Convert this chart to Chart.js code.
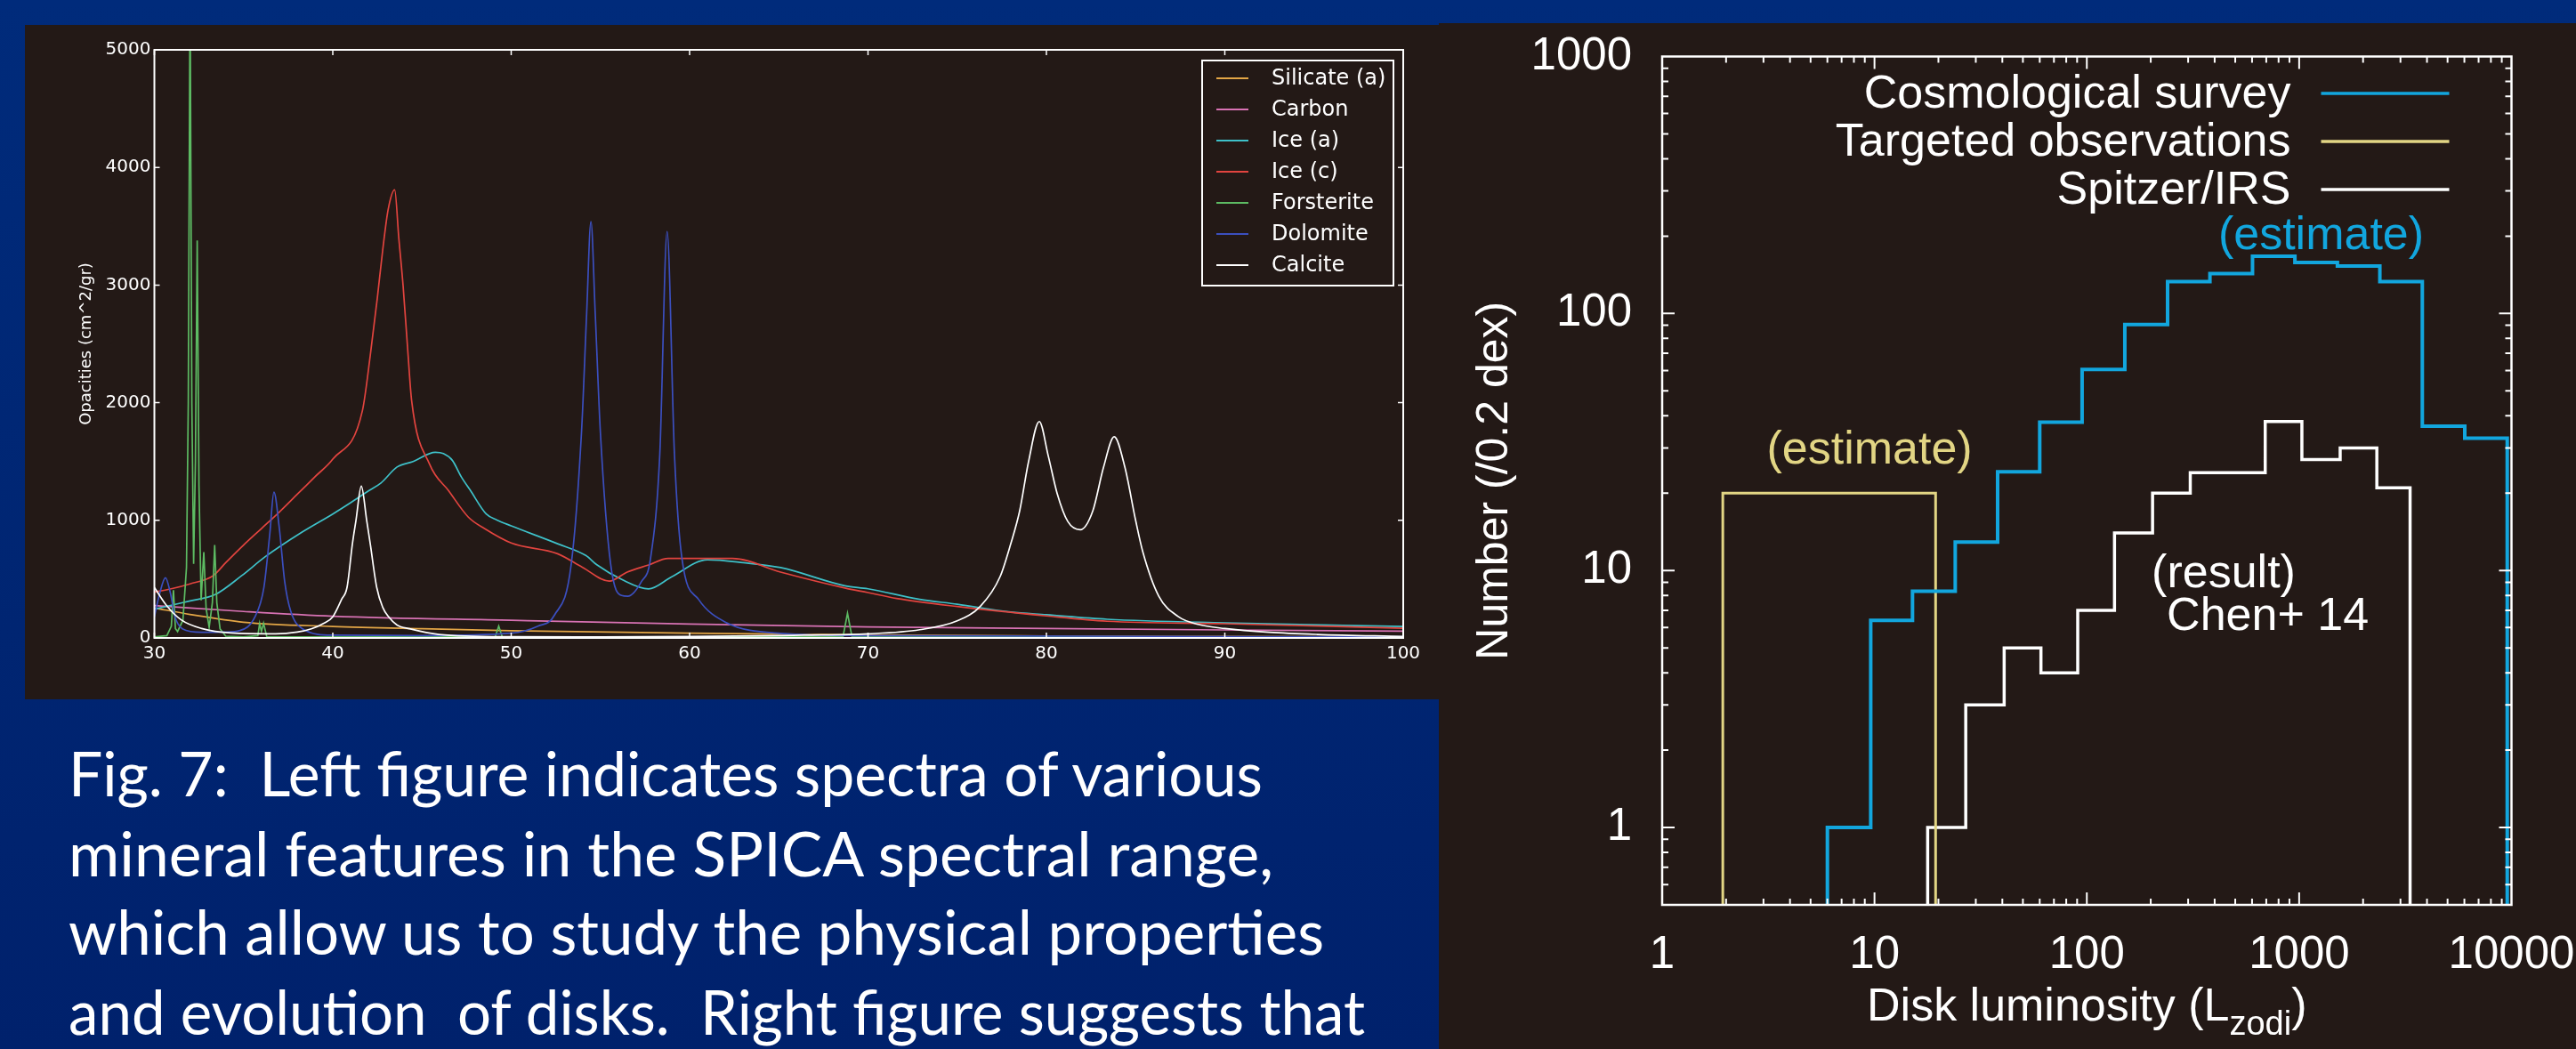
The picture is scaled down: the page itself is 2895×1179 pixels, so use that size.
<!DOCTYPE html>
<html>
<head>
<meta charset="utf-8">
<script src="https://cdn.jsdelivr.net/npm/chart.js@4.4.1/dist/chart.umd.min.js"></script>
<style>
  html, body { margin: 0; padding: 0; }
  body {
    width: 2895px; height: 1179px; overflow: hidden; position: relative;
    background: linear-gradient(#002b7b, #00216c);
    font-family: Lato, sans-serif;
  }
  .panel { position: absolute; background: #231916; }
  #left-panel { left: 28px; top: 28px; width: 1589px; height: 758px; }
  #right-panel { left: 1617px; top: 26px; width: 1278px; height: 1153px; }
  canvas { display: block; }
  .caption-line {
    position: absolute; left: 77px; color: #fff;
    font-family: Lato, sans-serif; font-size: 70px; line-height: 70px;
    white-space: pre; transform-origin: 0 0;
  }
</style>
</head>
<body>
<div class="panel" id="left-panel"><canvas id="spectra" width="1589" height="758"></canvas></div>
<div class="panel" id="right-panel"><canvas id="lumfunc" width="1278" height="1153"></canvas></div>

<div class="caption-line" style="top:833px" data-w="1342">Fig. 7:  Left figure indicates spectra of various</div>
<div class="caption-line" style="top:923px" data-w="1354">mineral features in the SPICA spectral range,</div>
<div class="caption-line" style="top:1011px" data-w="1411">which allow us to study the physical properties</div>
<div class="caption-line" style="top:1101px" data-w="1457">and evolution  of disks.  Right figure suggests that</div>

<script>
// ---------- left figure: mineral opacities (wavelength, cm^2/gr) ----------
const wavelengthTicks = [30, 40, 50, 60, 70, 80, 90, 100];
const opacityTicks = [0, 1000, 2000, 3000, 4000, 5000];
const mineralNames = ['Silicate (a)', 'Carbon', 'Ice (a)', 'Ice (c)', 'Forsterite', 'Dolomite', 'Calcite'];
const mineralColors = ['#e3a646', '#d872b4', '#3ec1c9', '#e2443f', '#5dbb63', '#3b4fbf', '#ffffff'];

const silicateA = [[30, 255], [32, 200], [35, 134], [40, 98], [45, 78], [50, 62], [60, 40], [70, 25], [80, 17], [90, 12], [100, 8]];
const carbon = [[30, 275], [35, 225], [40, 185], [50, 150], [60, 118], [70, 93], [80, 80], [90, 68], [100, 58]];
const iceA = [[30, 245], [31, 280], [32, 315], [33.4, 368], [34.9, 530], [36.2, 689], [38.3, 902], [40, 1054], [41, 1150],
  [42, 1250], [42.7, 1317], [43.6, 1453], [44.5, 1500], [45.75, 1578], [46.2, 1567], [46.7, 1510], [47.2, 1370],
  [47.7, 1257], [48.6, 1054], [49.2, 1003], [50, 953], [52.6, 801], [54.2, 699], [54.8, 622], [56.2, 497],
  [57.7, 417], [59, 520], [61, 664], [63, 640], [65.1, 598], [68.7, 444], [70, 418], [72.9, 328], [75, 287],
  [78, 220], [80, 197], [83.4, 159], [90, 128], [100, 98]];
const iceC = [[30, 390], [31, 420], [32, 460], [33.3, 530], [34, 640], [35, 790], [36, 930], [37, 1070], [38, 1220],
  [39, 1370], [40, 1520], [41.66, 1932], [42.1, 2400], [42.5, 2895], [42.8, 3300], [43.1, 3640], [43.47, 3810],
  [43.7, 3400], [43.94, 2996], [44.2, 2450], [44.42, 2017], [45.43, 1476], [46.5, 1250], [47.6, 1027], [48.5, 930],
  [50, 807], [52.6, 716], [54, 600], [55.5, 483], [56.5, 560], [57.7, 620], [58.8, 676], [62.4, 676], [65.1, 560],
  [68.7, 425], [70, 386], [71.6, 336], [75, 267], [80, 187], [83.4, 142], [90, 121], [100, 83]];
const forsterite = [[30, 8], [30.7, 20], [30.95, 100], [31.07, 406], [31.18, 80], [31.3, 55], [31.6, 150], [31.8, 600],
  [31.9, 2000], [32.0, 5600], [32.1, 2000], [32.2, 630], [32.3, 1500], [32.4, 3380], [32.5, 1300], [32.62, 320],
  [32.77, 730], [32.9, 250], [33.07, 90], [33.25, 300], [33.38, 790], [33.5, 300], [33.68, 78], [34, 15], [35, 8],
  [35.8, 20], [35.9, 123], [36.0, 55], [36.12, 125], [36.3, 10], [49.1, 8], [49.3, 100], [49.5, 8], [68.6, 10],
  [68.85, 210], [69.1, 10], [100, 5]];
const dolomite = [[30, 179], [30.3, 380], [30.62, 512], [30.9, 380], [31.16, 179], [31.57, 78], [32.65, 48], [34, 50],
  [34.8, 63], [35.64, 180], [36.14, 431], [36.47, 885], [36.7, 1240], [37.0, 938], [37.3, 484], [37.64, 229],
  [38.3, 78], [40, 23], [45, 20], [50, 40], [51.5, 100], [52.42, 193], [53.37, 632], [53.94, 1746], [54.23, 2760],
  [54.47, 3540], [54.71, 2760], [55.0, 1746], [55.57, 632], [56.19, 361], [56.53, 355], [57.3, 480], [57.81, 676],
  [58.33, 1564], [58.74, 3456], [59.15, 1564], [59.57, 676], [60.5, 328], [62, 135], [65.1, 39], [70, 20], [100, 10]];
const calcite = [[30, 430], [30.66, 280], [31.5, 154], [32.65, 80], [34.3, 42], [36.8, 35], [38, 50], [38.8, 78],
  [39.5, 125], [40, 180], [40.5, 330], [40.8, 431], [41.1, 800], [41.3, 1000], [41.6, 1290], [41.9, 1000],
  [42.1, 800], [42.46, 431], [42.8, 260], [43.13, 179], [43.6, 110], [44.3, 78], [45.95, 30], [50, 10], [55, 8],
  [60, 12], [65, 20], [66.4, 23], [70, 35], [72.9, 70], [75, 145], [76.3, 270], [77.4, 520], [78, 800], [78.5, 1080],
  [79, 1500], [79.6, 1840], [80.1, 1550], [80.6, 1230], [81.2, 990], [81.9, 920], [82.6, 1080], [83.2, 1450],
  [83.8, 1710], [84.4, 1450], [85, 1000], [85.4, 734], [86.3, 355], [87.4, 181], [88.5, 115], [90, 80], [92.5, 48],
  [95.2, 30], [100, 12]];
const mineralSpectra = [silicateA, carbon, iceA, iceC, forsterite, dolomite, calcite];

// ---------- right figure: disk luminosity histograms (edges in L_zodi, counts per 0.2 dex) ----------
const luminosityTicks = [1, 10, 100, 1000, 10000];
const numberTicks = [1, 10, 100, 1000];
const surveyNames = ['Cosmological survey', 'Targeted observations', 'Spitzer/IRS'];
const surveyColors = ['#12a6de', '#e2d584', '#ffffff'];

const cosmoEdges = [6.0, 9.6, 15.1, 24, 38, 60, 95, 151, 240, 380, 603, 955, 1514, 2399, 3802, 6026, 9550];
const cosmoCounts = [1, 6.4, 8.3, 12.9, 24.2, 37.8, 60.6, 90.5, 133, 143, 167, 158, 153, 133, 36.4, 32.7];
const targetedEdges = [1.93, 19.4];
const targetedCounts = [20];
const spitzerEdges = [17.8, 26.9, 40.8, 60.8, 90.6, 135, 204, 307, 462, 692, 1030, 1560, 2322, 3330];
const spitzerCounts = [1, 3, 5, 4, 7, 14, 20, 24, 24, 38, 27, 30, 21];

// labels inside the right plot, anchored in data space
const notes = [
  { text: '(estimate)', x: 1268, y: 199, color: '#12a6de', align: 'center' },
  { text: '(estimate)', x: 9.48, y: 29.3, color: '#e2d584', align: 'center' },
  { text: '(result)', x: 202, y: 9.66, color: '#ffffff', align: 'left' },
  { text: 'Chen+ 14', x: 238, y: 6.6, color: '#ffffff', align: 'left' }
];

// ---------------------------------------------------------------------
function toPoints(pairs) {
  return pairs.map(p => ({ x: p[0], y: p[1] }));
}

// histogram outline from bin edges, dropping to below the axis at both ends
function outline(edges, counts) {
  const floor = 0.3;
  const pts = [{ x: edges[0], y: floor }];
  counts.forEach((c, i) => {
    pts.push({ x: edges[i], y: c }, { x: edges[i + 1], y: c });
  });
  pts.push({ x: edges[edges.length - 1], y: floor });
  return pts;
}

// keep the plot box where the layout padding puts it (labels may hang over)
function noLabelPadding(s) {
  s.paddingTop = 0; s.paddingBottom = 0; s.paddingLeft = 0; s.paddingRight = 0;
}

// box + inward ticks on all four sides + legend, matplotlib style
const spectraDecor = {
  id: 'spectraDecor',
  afterDatasetsDraw(chart) {
    const { ctx, chartArea: a, scales: { x, y } } = chart;
    ctx.save();
    ctx.strokeStyle = '#ffffff';
    ctx.lineWidth = 1.5;
    ctx.beginPath();
    wavelengthTicks.forEach(v => {
      const px = x.getPixelForValue(v);
      ctx.moveTo(px, a.bottom); ctx.lineTo(px, a.bottom - 6);
      ctx.moveTo(px, a.top); ctx.lineTo(px, a.top + 6);
    });
    opacityTicks.forEach(v => {
      const py = y.getPixelForValue(v);
      ctx.moveTo(a.left, py); ctx.lineTo(a.left + 6, py);
      ctx.moveTo(a.right, py); ctx.lineTo(a.right - 6, py);
    });
    ctx.stroke();
    ctx.lineWidth = 2;
    ctx.strokeRect(a.left, a.top, a.right - a.left, a.bottom - a.top);

    // legend
    const bx = a.right - 226, by = a.top + 12, bw = 215, bh = 253;
    ctx.fillStyle = '#231916';
    ctx.fillRect(bx, by, bw, bh);
    ctx.lineWidth = 2;
    ctx.strokeStyle = '#ffffff';
    ctx.strokeRect(bx, by, bw, bh);
    ctx.font = '24px "DejaVu Sans"';
    ctx.textBaseline = 'middle';
    ctx.textAlign = 'left';
    mineralNames.forEach((name, i) => {
      const ly = by + 20 + 35 * i;
      ctx.strokeStyle = mineralColors[i];
      ctx.lineWidth = 2;
      ctx.beginPath();
      ctx.moveTo(bx + 16, ly); ctx.lineTo(bx + 52, ly);
      ctx.stroke();
      ctx.fillStyle = '#ffffff';
      ctx.fillText(name, bx + 78, ly + 1);
    });
    ctx.restore();
  }
};

new Chart(document.getElementById('spectra'), {
  type: 'line',
  data: {
    datasets: mineralSpectra.map((s, i) => ({
      label: mineralNames[i],
      data: toPoints(s),
      borderColor: mineralColors[i],
      borderWidth: 1.7,
      pointRadius: 0,
      fill: false,
      order: mineralNames.length - i,
      cubicInterpolationMode: mineralNames[i] === 'Forsterite' ? 'default' : 'monotone',
      tension: 0
    }))
  },
  options: {
    responsive: false,
    animation: false,
    layout: { padding: { top: 28, right: 40, bottom: 0, left: 0 } },
    plugins: { legend: { display: false }, tooltip: { enabled: false } },
    scales: {
      x: {
        type: 'linear', min: 30, max: 100,
        afterBuildTicks: s => { s.ticks = wavelengthTicks.map(v => ({ value: v })); },
        afterFit: s => { s.height = 69; noLabelPadding(s); },
        grid: { display: false, drawTicks: false },
        border: { display: false },
        ticks: { color: '#ffffff', padding: 6, maxRotation: 0, callback: v => String(v),
                 font: { family: 'DejaVu Sans', size: 20 } }
      },
      y: {
        type: 'linear', min: 0, max: 5000,
        afterBuildTicks: s => { s.ticks = opacityTicks.map(v => ({ value: v })); },
        afterFit: s => { s.width = 145.5; noLabelPadding(s); },
        grid: { display: false, drawTicks: false },
        border: { display: false },
        ticks: { color: '#ffffff', padding: 4, callback: v => String(v),
                 font: { family: 'DejaVu Sans', size: 20 } },
        title: {
          display: true, text: 'Opacities (cm^2/gr)', color: '#ffffff',
          font: { family: 'DejaVu Sans', size: 18 }, padding: { top: 59, bottom: 0 }
        }
      }
    }
  },
  plugins: [spectraDecor]
});

// gnuplot-like frame with major/minor log ticks, key, notes and x label
const lumDecor = {
  id: 'lumDecor',
  afterDatasetsDraw(chart) {
    const { ctx, chartArea: a, scales: { x, y } } = chart;
    ctx.save();
    ctx.strokeStyle = '#ffffff';
    ctx.lineWidth = 2;
    ctx.beginPath();
    for (let d = 1; d < 10000; d *= 10) {
      for (let k = 1; k <= 9; k++) {
        const px = x.getPixelForValue(d * k);
        const len = k === 1 ? 14 : 7;
        ctx.moveTo(px, a.bottom); ctx.lineTo(px, a.bottom - len);
        ctx.moveTo(px, a.top); ctx.lineTo(px, a.top + len);
      }
    }
    for (let d = 0.1; d < 1000; d *= 10) {
      for (let k = 1; k <= 9; k++) {
        const v = d * k;
        if (v < 0.5) continue;
        const py = y.getPixelForValue(v);
        const len = k === 1 ? 14 : 7;
        ctx.moveTo(a.left, py); ctx.lineTo(a.left + len, py);
        ctx.moveTo(a.right, py); ctx.lineTo(a.right - len, py);
      }
    }
    ctx.stroke();
    ctx.lineWidth = 2.5;
    ctx.strokeRect(a.left, a.top, a.right - a.left, a.bottom - a.top);

    // key
    ctx.font = '52px "Liberation Sans"';
    ctx.textBaseline = 'middle';
    surveyNames.forEach((name, i) => {
      const ly = a.top + 41.5 + 54 * i;
      ctx.fillStyle = '#ffffff';
      ctx.textAlign = 'right';
      ctx.fillText(name, a.right - 248, ly + 2);
      ctx.strokeStyle = surveyColors[i];
      ctx.lineWidth = 3.5;
      ctx.beginPath();
      ctx.moveTo(a.right - 214, ly); ctx.lineTo(a.right - 70, ly);
      ctx.stroke();
    });

    // notes
    notes.forEach(n => {
      ctx.fillStyle = n.color;
      ctx.textAlign = n.align;
      ctx.fillText(n.text, x.getPixelForValue(n.x), y.getPixelForValue(n.y));
    });

    // x axis label with subscript
    const main = 'Disk luminosity (L', sub = 'zodi', tail = ')';
    const bigFont = '52px "Liberation Sans"', smallFont = '38px "Liberation Sans"';
    ctx.font = bigFont;
    const w1 = ctx.measureText(main).width, w3 = ctx.measureText(tail).width;
    ctx.font = smallFont;
    const w2 = ctx.measureText(sub).width;
    const total = w1 + w2 + w3;
    let tx = (a.left + a.right) / 2 - total / 2;
    const base = a.bottom + 130;
    ctx.textAlign = 'left';
    ctx.textBaseline = 'alphabetic';
    ctx.fillStyle = '#ffffff';
    ctx.font = bigFont; ctx.fillText(main, tx, base); tx += w1;
    ctx.font = smallFont; ctx.fillText(sub, tx, base + 16); tx += w2;
    ctx.font = bigFont; ctx.fillText(tail, tx, base);
    ctx.restore();
  }
};

new Chart(document.getElementById('lumfunc'), {
  type: 'line',
  data: {
    datasets: [
      { label: surveyNames[0], data: outline(cosmoEdges, cosmoCounts), borderColor: surveyColors[0], borderWidth: 4 },
      { label: surveyNames[1], data: outline(targetedEdges, targetedCounts), borderColor: surveyColors[1], borderWidth: 3 },
      { label: surveyNames[2], data: outline(spitzerEdges, spitzerCounts), borderColor: surveyColors[2], borderWidth: 3.5 }
    ].map(d => Object.assign(d, { pointRadius: 0, fill: false, tension: 0, borderJoinStyle: 'miter' }))
  },
  options: {
    responsive: false,
    animation: false,
    layout: { padding: { top: 37.5, right: 72.5, bottom: 0, left: 0 } },
    plugins: { legend: { display: false }, tooltip: { enabled: false } },
    scales: {
      x: {
        type: 'logarithmic', min: 1, max: 10000,
        afterBuildTicks: s => { s.ticks = luminosityTicks.map(v => ({ value: v })); },
        afterFit: s => { s.height = 162; noLabelPadding(s); },
        grid: { display: false, drawTicks: false },
        border: { display: false },
        ticks: { color: '#ffffff', padding: 26, maxRotation: 0, autoSkip: false,
                 callback: v => String(v), font: { family: 'Liberation Sans', size: 51 } }
      },
      y: {
        type: 'logarithmic', min: 0.5, max: 1000,
        afterBuildTicks: s => { s.ticks = numberTicks.map(v => ({ value: v })); },
        afterFit: s => { s.width = 251; noLabelPadding(s); },
        grid: { display: false, drawTicks: false },
        border: { display: false },
        ticks: { color: '#ffffff', padding: 34, autoSkip: false,
                 callback: v => String(v), font: { family: 'Liberation Sans', size: 51 } },
        title: {
          display: true, text: 'Number (/0.2 dex)', color: '#ffffff',
          font: { family: 'Liberation Sans', size: 50 }, padding: { top: 33, bottom: 0 }
        }
      }
    }
  },
  plugins: [lumDecor]
});

// squeeze the caption lines to the narrow slide typeface width
function fitCaption() {
  document.querySelectorAll('.caption-line').forEach(el => {
    el.style.transform = 'none';
    const w = el.getBoundingClientRect().width;
    el.style.transform = 'scaleX(' + (Number(el.dataset.w) / w) + ')';
  });
}
fitCaption();
if (document.fonts && document.fonts.ready) document.fonts.ready.then(fitCaption);
</script>
</body>
</html>
